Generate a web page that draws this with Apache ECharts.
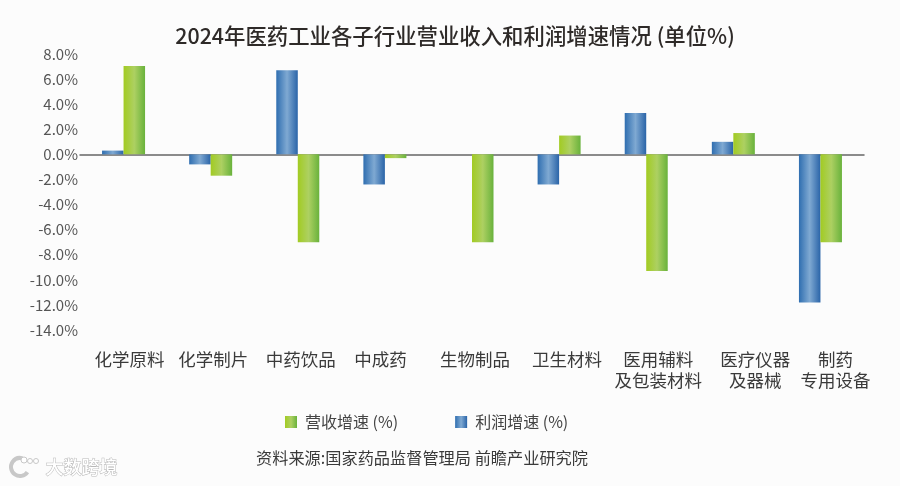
<!DOCTYPE html>
<html>
<head>
<meta charset="utf-8">
<style>
html,body{margin:0;padding:0;background:#fcfcfc}
#chart{width:900px;height:486px}
</style>
<script src="https://cdn.jsdelivr.net/npm/echarts@6/dist/echarts.min.js"></script>
</head>
<body>
<div id="chart"></div>
<script>
// 2024 pharmaceutical industry: revenue and profit growth by sub-sector (%)
const categories = ['化学原料','化学制片','中药饮品','中成药','生物制品','卫生材料','医用辅料\n及包装材料','医疗仪器\n及器械','制药\n专用设备'];
const profitGrowth = [0.3,-0.8,6.7,-2.4,0,-2.4,3.3,1.0,-11.8];
const revenueGrowth = [7.05,-1.7,-7.0,-0.3,-7.0,1.5,-9.3,1.7,-7.0];
const profitName = '利润增速 (%)';
const revenueName = '营收增速 (%)';
const labelShifts = [6,2.5,3,-4.5,3,8,12,22,15];

const FONT = '"Noto Sans CJK SC","Noto Sans",sans-serif';

function barGradient(a, b, c) {
  return new echarts.graphic.LinearGradient(0,0,1,0,[
    {offset:0,color:a},{offset:0.5,color:b},{offset:1,color:c}
  ]);
}

// Each category label gets its own rich style so it can sit off-centre from its bars.
const richLabels = {};
labelShifts.forEach((s, i) => {
  richLabels['c'+i] = {
    fontFamily: FONT, fontSize: 17.5, color:'#3a3a3a', lineHeight: 21,
    padding: s >= 0 ? [0,0,0,2*s] : [0,-2*s,0,0]
  };
});

const chart = echarts.init(document.getElementById('chart'), null, {renderer:'canvas'});
chart.setOption({
  backgroundColor:'#fcfcfc',
  animation:false,
  title:[
    {text:'2024年医药工业各子行业营业收入和利润增速情况 (单位%)',left:450,top:20,textAlign:'center',
     textStyle:{fontFamily:FONT,fontSize:21.4,fontWeight:500,color:'#2e2a28'}},
    {text:'资料来源:国家药品监督管理局 前瞻产业研究院',left:417,top:445,textAlign:'center',
     textStyle:{fontFamily:FONT,fontSize:16.2,fontWeight:400,color:'#3a3a3a'}}
  ],
  legend:{
    left:280,top:409,itemWidth:12,itemHeight:12,itemGap:57,icon:'rect',
    data:[revenueName,profitName],
    textStyle:{fontFamily:FONT,fontSize:16,color:'#444',padding:[0,0,0,3]}
  },
  grid:{left:80,right:36,top:54,height:276,containLabel:false},
  xAxis:[
    {type:'category',data:categories,
     axisLine:{onZero:true,lineStyle:{color:'#666',width:1.5}},
     axisTick:{show:false},axisLabel:{show:false},splitLine:{show:false}},
    {type:'category',data:categories,position:'bottom',
     axisLine:{show:false,onZero:false},axisTick:{show:false},splitLine:{show:false},
     axisLabel:{interval:0,margin:19,hideOverlap:false,
       formatter:(v,i)=>v.split('\n').map(t=>`{c${i}|${t}}`).join('\n'),
       rich:richLabels}}
  ],
  yAxis:{type:'value',min:-14,max:8,interval:2,
    axisLine:{show:false},axisTick:{show:false},splitLine:{show:false},
    axisLabel:{margin:2,fontFamily:FONT,fontSize:15,color:'#555',formatter:v=>v.toFixed(1)+'%'}},
  series:[
    {name:profitName,type:'bar',data:profitGrowth,barWidth:21.5,barGap:'0%',
     itemStyle:{color:barGradient('#2f6eb0','#7fa9d2','#2a64a8')}},
    {name:revenueName,type:'bar',data:revenueGrowth,barWidth:21.5,barGap:'0%',
     itemStyle:{color:barGradient('#a2cb22','#add062','#69b23c')}}
  ],
  graphic:[
    {type:'text',left:45,top:458,style:{text:'大数跨境',fontFamily:FONT,fontSize:18,fontWeight:500,
      fill:'#ffffff',stroke:'#b8b8b8',lineWidth:1}},
    {type:'arc',shape:{cx:20,cy:467,r:9,startAngle:0.6,endAngle:5.0},style:{fill:'none',stroke:'#c8c8c8',lineWidth:4}},
    {type:'circle',shape:{cx:24,cy:460,r:3},style:{fill:'#fff',stroke:'#c8c8c8',lineWidth:1}},
    {type:'circle',shape:{cx:30,cy:461,r:2.5},style:{fill:'#fff',stroke:'#c8c8c8',lineWidth:1}},
    {type:'circle',shape:{cx:36,cy:461,r:2.5},style:{fill:'#fff',stroke:'#c8c8c8',lineWidth:1}}
  ]
});
</script>
</body>
</html>
